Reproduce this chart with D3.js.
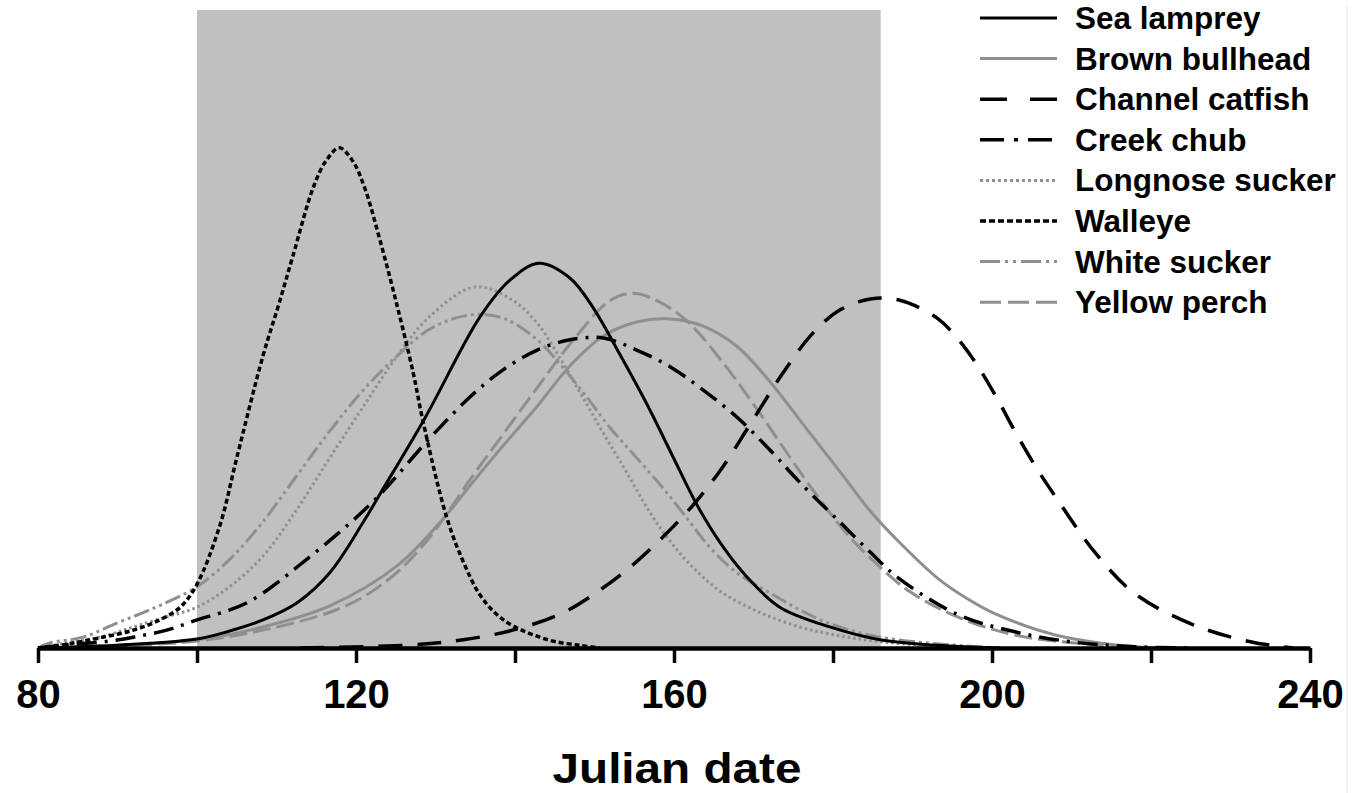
<!DOCTYPE html>
<html>
<head>
<meta charset="utf-8">
<script src="https://cdn.jsdelivr.net/npm/d3@7"></script>
<style>
  body { margin: 0; background: #fff; }
  svg { display: block; font-family: "Liberation Sans", Arial, Helvetica, sans-serif; }
</style>
</head>
<body>
<div id="chart"></div>
<script>
// species, in legend order
var species = ['Sea lamprey', 'Brown bullhead', 'Channel catfish', 'Creek chub',
    'Longnose sucker', 'Walleye', 'White sucker', 'Yellow perch'];

// [julian day, relative frequency]
var seaLamprey = [[80, 0], [87.8, 0.3], [100, 1.4], [104.2, 2.7], [108.3, 4.4], [112.6, 7.1],
    [116.7, 11.8], [120.9, 19.7], [123, 24.1], [128.7, 36.1], [135.6, 51.9], [139.4, 57.7],
    [143, 60.3], [146.9, 58.0], [149.8, 53.4], [153.2, 46.0], [156.6, 38.2], [159.9, 29.9],
    [162.9, 22.4], [166.2, 15.8], [169.2, 11.1], [173.3, 6.4], [179.6, 3.3], [185.9, 1.3],
    [194.7, 0.3], [201, 0]];
var brownBullhead = [[80, 0], [87.8, 0.3], [100, 1.3], [108.3, 3.3], [116.7, 6.6], [125.2, 12.9],
    [131.4, 20.9], [134.3, 25.4], [138.5, 31.7], [142.8, 37.9], [146.9, 44.2], [151.1, 48.9],
    [155.3, 51.1], [159.1, 51.6], [163.6, 50.5], [167.9, 47.3], [172.1, 41.7], [176.7, 34.3],
    [180.9, 27.6], [185, 21.0], [188.4, 16.5], [193.1, 11.0], [196.8, 7.8], [200.5, 5.3],
    [208.1, 2.0], [218, 0.2], [225, 0]];
var channelCatfish = [[113, 0], [127.2, 0.5], [133.5, 1.3], [139.7, 2.8], [146, 5.5], [150.7, 9.1],
    [154.8, 13.0], [158.6, 17.4], [162.4, 22.4], [166.2, 28.5], [169.9, 35.7], [173.7, 43.1],
    [177.5, 49.4], [180.9, 53.0], [184.7, 54.7], [188.4, 54.5], [193.1, 51.7], [195.6, 48.6],
    [198.1, 44.4], [200.6, 39.2], [203, 33.7], [205.5, 28.4], [208.1, 23.5], [213, 14.9],
    [218, 8.5], [225.4, 3.6], [232.8, 0.9], [237.9, 0]];
var creekChub = [[80, 0], [83.6, 0.5], [87.8, 0.9], [92, 1.7], [96.2, 2.8], [100, 4.4], [106.3, 7.1],
    [113.8, 13.9], [122.1, 22.9], [129.3, 32.9], [134.3, 39.3], [138.5, 43.6], [142.8, 46.7],
    [146.9, 48.3], [151.1, 48.6], [155.3, 46.7], [159.5, 44.1], [163.6, 40.5], [167.9, 36.2],
    [172.1, 31.0], [175.8, 26.0], [180.9, 19.7], [184.7, 15.0], [188.2, 11.0], [195.6, 5.3],
    [203, 2.5], [210.4, 0.9], [218, 0.2], [225, 0]];
var longnoseSucker = [[80, 0], [83.6, 0.8], [87.8, 1.7], [92, 3.3], [96.2, 4.9], [100, 6.4],
    [104.2, 9.7], [108.3, 14.4], [112.6, 21.8], [116.7, 29.8], [120.9, 37.8], [125.2, 45.8],
    [129.3, 52.0], [135, 56.6], [139.7, 54.5], [142.8, 50.9], [145.3, 46.2], [148.2, 40.0],
    [151.1, 33.7], [154.1, 27.4], [157, 21.2], [159.9, 16.1], [162.9, 12.0], [165.8, 8.9],
    [169.2, 6.5], [172.1, 4.9], [175.8, 3.3], [179.6, 2.2], [185.9, 1.0], [194.7, 0.2], [200, 0]];
var walleye = [[80, 0], [83.6, 0.6], [87.8, 1.6], [92, 2.8], [95.3, 4.4], [97.9, 6.4], [100, 10.0],
    [102.9, 19.3], [105, 29.8], [108.3, 45.8], [110.2, 53.5], [112.1, 61.6], [114.6, 72.1],
    [116.2, 76.3], [117.9, 78.4], [119.6, 76.3], [121.1, 72.1], [123, 64.0], [125.2, 53.5],
    [127.2, 43.1], [128.4, 35.7], [131.4, 20.5], [133.5, 13.5], [135.5, 8.5], [137.5, 5.5],
    [139.7, 3.5], [144.4, 1.2], [148.2, 0.4], [150.7, 0]];
var whiteSucker = [[80, 0], [81.5, 0.8], [85.7, 1.7], [89.9, 3.9], [94.1, 6.0], [100, 9.6],
    [104.2, 14.0], [108.3, 19.8], [112.6, 27.1], [116.7, 34.0], [120.9, 40.4], [125.2, 45.8],
    [129.3, 50.0], [134.3, 52.2], [138.5, 51.7], [142.8, 48.3], [146, 44.0], [149.1, 39.2],
    [151.9, 34.6], [155.3, 29.8], [158.6, 25.1], [161.6, 20.4], [164.5, 15.8], [167.9, 11.8],
    [172.1, 8.6], [175.8, 6.0], [179.6, 3.8], [185.9, 1.7], [194.7, 0.5], [201, 0]];
var yellowPerch = [[80, 0], [87.8, 0.2], [100, 1.1], [108.3, 2.8], [116.7, 5.6], [120.9, 8.0],
    [125.2, 11.9], [129.3, 17.4], [134.3, 26.3], [138.5, 33.5], [142.8, 40.8], [146.9, 47.6],
    [151.9, 54.4], [154.8, 55.6], [157.9, 54.4], [161.6, 51.3], [165.8, 45.3], [169.9, 38.4],
    [174.2, 30.6], [178.2, 23.5], [182.1, 17.4], [185.9, 12.7], [189.7, 8.8], [195.6, 4.9],
    [203, 2.0], [213, 0.5], [220, 0]];

var seriesData = [seaLamprey, brownBullhead, channelCatfish, creekChub,
    longnoseSucker, walleye, whiteSucker, yellowPerch];

var xTicks = [80, 100, 120, 140, 160, 180, 200, 220, 240];
var xTickLabels = ['80', '', '120', '', '160', '', '200', '', '240'];
var shadedPeriod = [100, 186];
var xTitle = 'Julian date';

// line looks (curve, legend)
var GREY = '#8f8f8f';
var styles = [
    {color: '#000', width: 3, dash: null, legDash: null},
    {color: GREY, width: 3, dash: null, legDash: null},
    {color: '#000', width: 3.5, dash: '24,15', legDash: '27,23'},
    {color: '#000', width: 3.5, dash: '20,8,3,8', legDash: '24,10,4,10'},
    {color: GREY, width: 3, dash: '2.5,3', legDash: '3,3'},
    {color: '#000', width: 3.5, dash: '5,3', legDash: '6,3'},
    {color: GREY, width: 3, dash: '16,4,3,4,3,4', legDash: '20,5,3,5,3,5'},
    {color: GREY, width: 3, dash: '18,6', legDash: '21,7'}
];

var W = 1354, H = 793;
var svg = d3.select('#chart').append('svg')
    .attr('width', W)
    .attr('height', H);

var x = d3.scaleLinear().domain([80, 240]).range([38, 1310]);
var y = d3.scaleLinear().domain([0, 100]).range([648, 10]);

// faint frame edge on the right
svg.append('line')
    .attr('x1', 1347).attr('x2', 1347)
    .attr('y1', 6).attr('y2', H)
    .attr('stroke', '#ececec').attr('stroke-width', 1.5);

// shaded sampling period
svg.append('rect')
    .attr('x', x(shadedPeriod[0]))
    .attr('y', y(100))
    .attr('width', x(shadedPeriod[1]) - x(shadedPeriod[0]))
    .attr('height', y(0) - y(100))
    .attr('fill', '#c0c0c0');

var line = d3.line()
    .x(function (d) { return x(d[0]); })
    .y(function (d) { return Math.min(y(d[1]), y(0)); })
    .curve(d3.curveCatmullRom.alpha(0.5));

var drawOrder = [7, 6, 4, 1, 3, 2, 0, 5];
drawOrder.forEach(function (i) {
    var s = styles[i];
    svg.append('path')
        .datum(seriesData[i])
        .attr('d', line)
        .attr('fill', 'none')
        .attr('stroke', s.color)
        .attr('stroke-width', s.width)
        .attr('stroke-dasharray', s.dash);
});

// x axis
var xAxis = d3.axisBottom(x)
    .tickValues(xTicks)
    .tickFormat(function (d, i) { return xTickLabels[i]; })
    .tickSize(15)
    .tickSizeOuter(0)
    .tickPadding(17);

var gX = svg.append('g')
    .attr('transform', 'translate(0,' + y(0) + ')')
    .call(xAxis);
gX.select('.domain').attr('stroke', '#000').attr('stroke-width', 4.5);
gX.selectAll('.tick line').attr('stroke', '#000').attr('stroke-width', 3.5);
gX.selectAll('.tick text')
    .attr('fill', '#000')
    .style('font-size', '40px')
    .style('font-weight', 'bold')
    .style('font-family', '"Liberation Sans", Arial, sans-serif');

svg.append('text')
    .attr('x', 677)
    .attr('y', 783)
    .attr('text-anchor', 'middle')
    .attr('textLength', 249)
    .attr('lengthAdjust', 'spacingAndGlyphs')
    .style('font-size', '43px')
    .style('font-weight', 'bold')
    .text(xTitle);

// legend
var legend = svg.append('g').attr('class', 'legend');
species.forEach(function (name, i) {
    var cy = 18 + i * 40.6;
    var s = styles[i];
    legend.append('line')
        .attr('x1', 980).attr('x2', 1057)
        .attr('y1', cy).attr('y2', cy)
        .attr('stroke', s.color)
        .attr('stroke-width', s.width)
        .attr('stroke-dasharray', s.legDash);
    legend.append('text')
        .attr('x', 1075)
        .attr('y', cy + 11)
        .style('font-size', '31.5px')
        .style('font-weight', 'bold')
        .text(name);
});
</script>
</body>
</html>
